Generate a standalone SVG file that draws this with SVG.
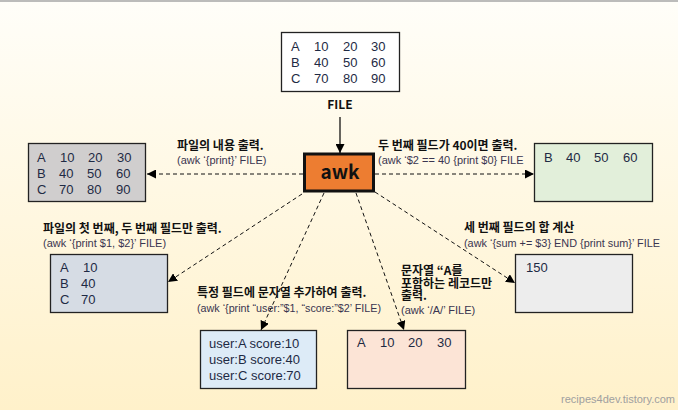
<svg xmlns="http://www.w3.org/2000/svg" width="678" height="410" viewBox="0 0 678 410">
<defs>
<linearGradient id="bg" x1="0" y1="0" x2="0" y2="1">
<stop offset="0" stop-color="#FFFEF9"/>
<stop offset="1" stop-color="#FFF1CA"/>
</linearGradient>
<marker id="ah" viewBox="0 0 10 10" refX="10" refY="5" markerWidth="9" markerHeight="9" markerUnits="userSpaceOnUse" orient="auto">
<path d="M0,0 L10,5 L0,10 Z" fill="#000"/>
</marker>
</defs>
<style>
text{font-family:"Liberation Sans","Noto Sans CJK KR",sans-serif;fill:#222;}
.d{font-size:13px;fill:#1E2A44;}
.t{font-family:"Noto Sans CJK KR","Liberation Sans",sans-serif;font-size:12px;font-weight:bold;fill:#111;}
.c{font-size:11px;fill:#3A3550;}
.box{stroke:#222;stroke-width:1.3;}
.dash{stroke:#111;stroke-width:1;stroke-dasharray:4 3;fill:none;marker-end:url(#ah);}
</style>
<rect x="0" y="0" width="678" height="410" fill="url(#bg)"/>
<line x1="0" y1="1" x2="678" y2="1" stroke="#A6A6A6" stroke-width="1.5"/>

<g id="file">
<rect class="box" x="281.5" y="32.5" width="118" height="59" fill="#FFFFFF" stroke="#7F7F7F"/>
<text class="d" x="291" y="51">A</text><text class="d" x="314" y="51">10</text><text class="d" x="343" y="51">20</text><text class="d" x="371" y="51">30</text>
<text class="d" x="291" y="67">B</text><text class="d" x="314" y="67">40</text><text class="d" x="343" y="67">50</text><text class="d" x="371" y="67">60</text>
<text class="d" x="291" y="83">C</text><text class="d" x="314" y="83">70</text><text class="d" x="343" y="83">80</text><text class="d" x="371" y="83">90</text>
<text class="t" x="340" y="109" text-anchor="middle">FILE</text>
</g>

<g id="awk">
<rect x="304.5" y="154" width="69" height="37" fill="#ED7D31" stroke="#111" stroke-width="3"/>
<text x="340" y="179" text-anchor="middle" style="font-family:'Noto Sans CJK KR','Liberation Sans',sans-serif;font-size:19px;font-weight:bold;fill:#111">awk</text>
</g>

<g id="print-all">
<text class="t" x="177" y="150">파일의 내용 출력.</text>
<text class="c" x="177" y="164">(awk ‘{print}’ FILE)</text>
<rect class="box" x="28.5" y="143.5" width="117" height="58" fill="#D0CECE"/>
<text class="d" x="37" y="162">A</text><text class="d" x="60" y="162">10</text><text class="d" x="88" y="162">20</text><text class="d" x="117" y="162">30</text>
<text class="d" x="37" y="178">B</text><text class="d" x="59" y="178">40</text><text class="d" x="87" y="178">50</text><text class="d" x="116" y="178">60</text>
<text class="d" x="37" y="194">C</text><text class="d" x="59" y="194">70</text><text class="d" x="87" y="194">80</text><text class="d" x="116" y="194">90</text>
</g>

<g id="field40">
<text class="t" x="378" y="150">두 번째 필드가 40이면 출력.</text>
<text class="c" x="378" y="164">(awk ‘$2 == 40 {print $0} FILE</text>
<rect class="box" x="534.5" y="143.5" width="118" height="58" fill="#E2EFDA"/>
<text class="d" x="544" y="162">B</text><text class="d" x="566" y="162">40</text><text class="d" x="594" y="162">50</text><text class="d" x="623" y="162">60</text>
</g>

<g id="fields12">
<text class="t" x="43" y="233">파일의 첫 번째, 두 번째 필드만 출력.</text>
<text class="c" x="43" y="247">(awk ‘{print $1, $2}’ FILE)</text>
<rect class="box" x="50.5" y="254.5" width="117" height="58" fill="#D6DCE4"/>
<text class="d" x="60" y="272">A</text><text class="d" x="83" y="272">10</text>
<text class="d" x="60" y="288">B</text><text class="d" x="81" y="288">40</text>
<text class="d" x="60" y="304">C</text><text class="d" x="81" y="304">70</text>
</g>

<g id="sum">
<text class="t" x="464" y="232">세 번째 필드의 합 계산</text>
<text class="c" x="464" y="247" textLength="196" lengthAdjust="spacingAndGlyphs">(awk ‘{sum += $3} END {print sum}’ FILE</text>
<rect class="box" x="515.5" y="254.5" width="117" height="58" fill="#EDEDED"/>
<text class="d" x="526" y="272">150</text>
</g>

<g id="user-score">
<text class="t" x="197" y="297">특정 필드에 문자열 추가하여 출력.</text>
<text class="c" x="197" y="312" textLength="184" lengthAdjust="spacingAndGlyphs">(awk ‘{print “user:”$1, “score:”$2’ FILE)</text>
<rect class="box" x="200.5" y="330.5" width="116" height="58" fill="#DDEBF7"/>
<text class="d" x="209" y="348">user:A score:10</text>
<text class="d" x="209" y="364">user:B score:40</text>
<text class="d" x="209" y="380">user:C score:70</text>
</g>

<g id="match-a">
<text class="t" x="401" y="275">문자열 “A를</text>
<text class="t" x="401" y="288">포함하는 레코드만</text>
<text class="t" x="401" y="300">출력.</text>
<text class="c" x="401" y="314">(awk ‘/A/’ FILE)</text>
<rect class="box" x="347.5" y="330.5" width="118" height="58" fill="#FCE4D6"/>
<text class="d" x="357" y="347">A</text><text class="d" x="380" y="347">10</text><text class="d" x="408" y="347">20</text><text class="d" x="437" y="347">30</text>
</g>

<g id="connectors">
<line x1="340" y1="117" x2="340" y2="153" stroke="#000" stroke-width="1.2" marker-end="url(#ah)"/>
<line class="dash" x1="303" y1="174" x2="147" y2="174"/>
<line class="dash" x1="375" y1="174" x2="534" y2="174"/>
<line class="dash" x1="302" y1="194" x2="168" y2="282"/>
<line class="dash" x1="324" y1="193" x2="261" y2="330"/>
<line class="dash" x1="356" y1="193" x2="404" y2="330"/>
<line class="dash" x1="375" y1="192" x2="515" y2="283"/>
</g>

<text x="675" y="403" text-anchor="end" style="font-size:11px;fill:#A0A0A0">recipes4dev.tistory.com</text>
</svg>
